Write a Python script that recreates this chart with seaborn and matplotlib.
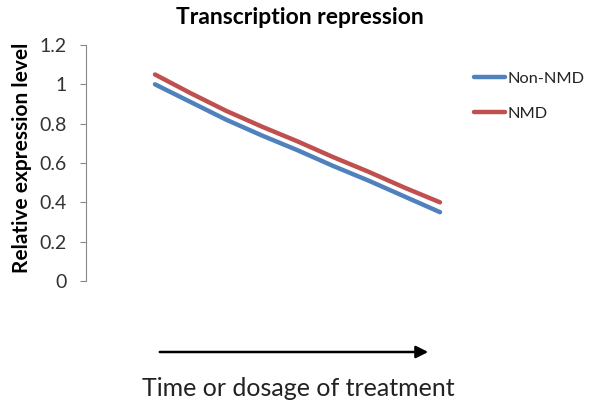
import matplotlib
matplotlib.use("Agg")
import matplotlib.pyplot as plt
import seaborn as sns
import pandas as pd

steps = [0, 1, 2, 3, 4, 5, 6, 7, 8]
non_nmd = [1.00, 0.91, 0.82, 0.74, 0.665, 0.585, 0.51, 0.43, 0.35]
nmd = [1.05, 0.955, 0.865, 0.785, 0.71, 0.63, 0.555, 0.475, 0.40]
series_names = ["Non-NMD", "NMD"]
yticks = [0, 0.2, 0.4, 0.6, 0.8, 1.0, 1.2]
ytick_labels = ["0", "0.2", "0.4", "0.6", "0.8", "1", "1.2"]

df = pd.DataFrame({
    "step": steps * 2,
    "value": non_nmd + nmd,
    "series": [series_names[0]] * len(steps) + [series_names[1]] * len(steps),
})

sns.set_theme(style="white")
plt.rcParams["font.family"] = ["Lato", "DejaVu Sans"]

fig = plt.figure(figsize=(5.91, 4.05), dpi=100)
ax = fig.add_axes([86 / 591, 1 - 281 / 405, 375 / 591, 236 / 405])

sns.lineplot(data=df, x="step", y="value", hue="series",
             palette={"Non-NMD": "#4F81BD", "NMD": "#C0504D"},
             linewidth=3.2, ax=ax, legend=False, solid_capstyle="round",
             solid_joinstyle="round")

# x=0 at 155 px, x=8 at 440 px
ppu = (440 - 155) / 8
ax.set_xlim(-(155 - 86) / ppu, (461 - 155) / ppu)
ax.set_ylim(0, 1.2)
ax.set_yticks(yticks)
ax.set_yticklabels(ytick_labels, fontsize=14, color="#333333")
ax.set_xticks([])
ax.set_xlabel("")
ax.set_ylabel("")
for s in ["top", "right", "bottom"]:
    ax.spines[s].set_visible(False)
ax.spines["left"].set_color("#888888")
ax.spines["left"].set_linewidth(0.8)
ax.tick_params(axis="y", direction="out", length=4, width=0.8, color="#888888",
               left=True, pad=10)

fig.text(22 / 591, 1 - 158 / 405, "Relative expression level", rotation=90,
         ha="center", va="center", fontsize=15, fontweight="bold", color="black")

fig.text(300 / 591, 1 - 18 / 405, "Transcription repression", ha="center",
         va="center", fontsize=16.5, fontweight="bold", color="black")

handles = [plt.Line2D([], [], color="#4F81BD", lw=3.2, solid_capstyle="round"),
           plt.Line2D([], [], color="#C0504D", lw=3.2, solid_capstyle="round")]
fig.legend(handles, series_names, loc="upper left",
           bbox_to_anchor=(0.782, 0.852), frameon=False, fontsize=11.8,
           handlelength=1.9, handletextpad=0.15, labelspacing=1.25,
           labelcolor="#222222", borderpad=0.2)

fig.patches.append(matplotlib.patches.FancyArrowPatch(
    (157 / 591, 1 - 352 / 405), (431 / 591, 1 - 352 / 405),
    transform=fig.transFigure, arrowstyle="-|>", mutation_scale=18,
    color="black", lw=1.8))

fig.text(298 / 591, 1 - 388 / 405, "Time or dosage of treatment", ha="center",
         va="center", fontsize=18, color="#222222")

fig.savefig("out.png", dpi=100, facecolor="white")
